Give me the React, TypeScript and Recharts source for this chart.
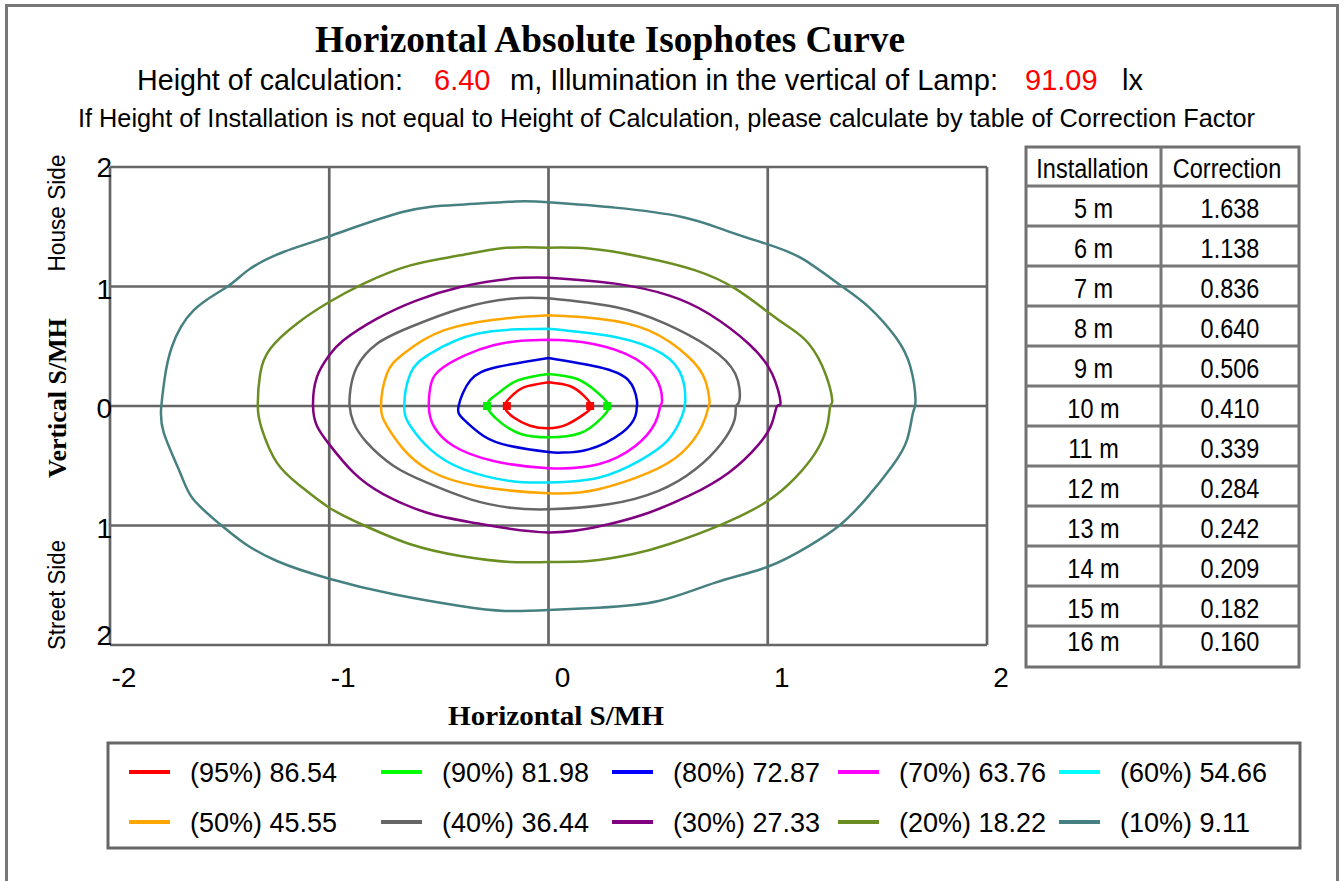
import React from 'react';
import { ScatterChart, Scatter, XAxis, YAxis, CartesianGrid } from 'recharts';

// contour points [x, y] in S/MH (top -> left -> bottom -> right -> top)
const red95 = [[0, 0.198], [-0.113, 0.156], [-0.166, 0.086], [-0.2, 0], [-0.16, -0.095], [-0.084, -0.165], [0, -0.187], [0.085, -0.153], [0.161, -0.07], [0.195, 0], [0.161, 0.086], [0.1, 0.165], [0, 0.198]];
const green90 = [[0, 0.268], [-0.143, 0.212], [-0.234, 0.1], [-0.28, 0], [-0.219, -0.137], [-0.126, -0.234], [0, -0.262], [0.146, -0.226], [0.237, -0.109], [0.275, 0], [0.222, 0.115], [0.131, 0.226], [0, 0.268]];
const blue80 = [[0, 0.402], [-0.234, 0.326], [-0.356, 0.215], [-0.41, 0], [-0.387, -0.112], [-0.296, -0.251], [-0.174, -0.335], [0, -0.385], [0.061, -0.39], [0.183, -0.363], [0.335, -0.223], [0.396, -0.084], [0.403, 0], [0.403, 0.048], [0.365, 0.215], [0.228, 0.326], [0, 0.402]];
const magenta70 = [[0, 0.555], [-0.251, 0.508], [-0.478, 0.326], [-0.539, 0.159], [-0.546, 0], [-0.524, -0.167], [-0.433, -0.335], [-0.251, -0.46], [0, -0.52], [0.228, -0.488], [0.396, -0.335], [0.487, -0.139], [0.51, 0], [0.518, 0.048], [0.487, 0.243], [0.35, 0.438], [0.152, 0.536], [0, 0.555]];
const cyan60 = [[0, 0.647], [-0.326, 0.605], [-0.539, 0.438], [-0.63, 0.27], [-0.658, 0], [-0.63, -0.167], [-0.539, -0.363], [-0.387, -0.53], [-0.174, -0.628], [0, -0.64], [0.228, -0.6], [0.426, -0.446], [0.548, -0.279], [0.609, -0.084], [0.621, 0], [0.624, 0.048], [0.609, 0.243], [0.518, 0.438], [0.304, 0.577], [0, 0.647]];
const orange50 = [[0, 0.759], [-0.205, 0.731], [-0.478, 0.633], [-0.661, 0.438], [-0.737, 0.27], [-0.764, 0], [-0.737, -0.167], [-0.661, -0.363], [-0.539, -0.544], [-0.326, -0.669], [0, -0.731], [0.228, -0.697], [0.457, -0.558], [0.609, -0.39], [0.7, -0.167], [0.731, 0], [0.734, 0.048], [0.715, 0.215], [0.639, 0.41], [0.457, 0.633], [0.228, 0.731], [0, 0.759]];
const gray40 = [[0, 0.902], [-0.174, 0.898], [-0.402, 0.814], [-0.63, 0.661], [-0.782, 0.521], [-0.874, 0.326], [-0.904, 0.131], [-0.907, 0], [-0.889, -0.139], [-0.828, -0.307], [-0.706, -0.502], [-0.554, -0.642], [-0.356, -0.781], [-0.174, -0.851], [0, -0.865], [0.274, -0.823], [0.502, -0.711], [0.67, -0.53], [0.791, -0.307], [0.849, -0.112], [0.855, 0], [0.871, 0.048], [0.852, 0.27], [0.731, 0.494], [0.533, 0.689], [0.304, 0.828], [0, 0.902]];
const purple30 = [[0, 1.074], [-0.174, 1.066], [-0.402, 0.996], [-0.6, 0.884], [-0.782, 0.731], [-0.935, 0.55], [-1, 0.424], [-1.056, 0.243], [-1.074, 0], [-1.056, -0.167], [-1, -0.321], [-0.889, -0.558], [-0.752, -0.739], [-0.554, -0.893], [-0.326, -0.982], [0, -1.058], [0.274, -0.99], [0.457, -0.893], [0.639, -0.753], [0.822, -0.558], [0.959, -0.321], [1.02, -0.14], [1.043, 0], [1.058, 0.033], [1.02, 0.27], [0.913, 0.521], [0.731, 0.772], [0.548, 0.926], [0.304, 1.024], [0, 1.074]];
const olive20 = [[0, 1.325], [-0.205, 1.322], [-0.402, 1.261], [-0.63, 1.177], [-0.843, 1.024], [-1, 0.87], [-1.148, 0.689], [-1.269, 0.48], [-1.315, 0.27], [-1.326, 0], [-1.307, -0.195], [-1.239, -0.474], [-1.132, -0.669], [-1, -0.851], [-0.843, -0.998], [-0.63, -1.157], [-0.402, -1.255], [-0.174, -1.305], [0, -1.305], [0.183, -1.297], [0.381, -1.241], [0.548, -1.157], [0.791, -0.99], [1, -0.795], [1.126, -0.6], [1.218, -0.39], [1.271, -0.167], [1.285, 0], [1.294, 0.048], [1.263, 0.27], [1.187, 0.521], [1.096, 0.661], [1, 0.787], [0.852, 0.982], [0.67, 1.135], [0.426, 1.247], [0.183, 1.317], [0, 1.325]];
const teal10 = [[0, 1.705], [-0.15, 1.712], [-0.402, 1.685], [-0.661, 1.625], [-1, 1.42], [-1.209, 1.289], [-1.361, 1.149], [-1.467, 0.996], [-1.619, 0.8], [-1.718, 0.494], [-1.752, 0.215], [-1.766, 0], [-1.755, -0.223], [-1.68, -0.558], [-1.62, -0.781], [-1.498, -0.99], [-1.391, -1.144], [-1.239, -1.297], [-1, -1.445], [-0.706, -1.576], [-0.402, -1.674], [-0.2, -1.715], [0, -1.708], [0.228, -1.688], [0.502, -1.632], [0.761, -1.478], [1, -1.345], [1.187, -1.172], [1.324, -1.004], [1.446, -0.781], [1.568, -0.502], [1.636, -0.279], [1.662, -0.06], [1.674, 0.048], [1.651, 0.326], [1.583, 0.577], [1.461, 0.828], [1.332, 1.01], [1.157, 1.233], [1, 1.353], [0.807, 1.47], [0.609, 1.582], [0.304, 1.66], [0, 1.705]];

// little square marks at the tips of the two inner curves
const red95Tips = [[-0.19, 0], [0.19, 0]];
const green90Tips = [[-0.28, 0], [0.268, 0]];

const levelNames = ['(95%) 86.54', '(90%) 81.98', '(80%) 72.87', '(70%) 63.76', '(60%) 54.66', '(50%) 45.55', '(40%) 36.44', '(30%) 27.33', '(20%) 18.22', '(10%) 9.11'];
const levelColors = ['#ff0000', '#00ee00', '#0000dd', '#ff00ff', '#00e5ff', '#ffa500', '#666666', '#800080', '#6b8e23', '#468080'];
const legendColors = ['#ff0000', '#00ff00', '#0000ff', '#ff00ff', '#00ffff', '#ffa500', '#666666', '#800080', '#6b8e23', '#468080'];
const levelData = [red95, green90, blue80, magenta70, cyan60, orange50, gray40, purple30, olive20, teal10];

const xTicks = [-2, -1, 0, 1, 2];
const yTicks = [-2, -1, 0, 1, 2];

const installHeights = [5, 6, 7, 8, 9, 10, 11, 12, 13, 14, 15, 16];
const correctionFactors = [1.638, 1.138, 0.836, 0.64, 0.506, 0.41, 0.339, 0.284, 0.242, 0.209, 0.182, 0.16];

const SANS = "'Liberation Sans', Arial, sans-serif";
const SERIF = "'Liberation Serif', 'Times New Roman', serif";

const toPts = (arr: number[][]) => arr.map(([x, y]) => ({ x, y }));

const XTick = (props: any) => {
  const { x, payload } = props;
  return (
    <text x={x + 14} y={687} textAnchor="middle" fontSize={28} fontFamily={SANS} fill="#000">
      {payload.value}
    </text>
  );
};

const YTick = (props: any) => {
  const { y, payload } = props;
  const v = payload.value as number;
  const dy = v === -2 ? -10 : v === 2 ? 0 : 2;
  return (
    <text x={112} y={y + dy} dy="0.36em" textAnchor="end" fontSize={28} fontFamily={SANS} fill="#000">
      {Math.abs(v)}
    </text>
  );
};

const NoDot = () => <g />;

const Table = () => {
  const left = 1026;
  const mid = 1161;
  const right = 1299;
  const top = 147;
  const head = 186;
  const rowH = 40;
  const bottom = 667;
  const cx1 = (left + mid) / 2;
  const cx2 = (mid + right) / 2;
  const cell = (cx: number, cy: number, s: string) => (
    <g transform={`translate(${cx},${cy}) scale(0.84,1)`}>
      <text x={0} y={0} dy="0.36em" textAnchor="middle" fontSize={28} fontFamily={SANS} fill="#000">
        {s}
      </text>
    </g>
  );
  return (
    <g>
      <rect x={left} y={top} width={right - left} height={bottom - top} fill="#fff" stroke="#707070" strokeWidth={3} />
      <line x1={mid} y1={top} x2={mid} y2={bottom} stroke="#777" strokeWidth={3} />
      <line x1={left} y1={head} x2={right} y2={head} stroke="#777" strokeWidth={3} />
      {installHeights.map((h, i) => {
        const y0 = head + rowH * i;
        const cy = i === installHeights.length - 1 ? y0 + 15 : y0 + 22;
        return (
          <g key={h}>
            {i > 0 && <line x1={left} y1={y0} x2={right} y2={y0} stroke="#777" strokeWidth={3} />}
            {cell(cx1, cy, `${h} m`)}
            {cell(cx2, cy, correctionFactors[i].toFixed(3))}
          </g>
        );
      })}
      {cell(cx1 - 1, 168, 'Installation')}
      {cell(cx2 - 3, 168, 'Correction')}
    </g>
  );
};

const LegendBox = () => {
  const textX = [190, 442, 673, 899, 1120];
  const rowY = [772, 822];
  return (
    <g>
      <rect x={108} y={743} width={1192} height={105} fill="#fff" stroke="#666" strokeWidth={3} />
      {levelNames.map((name, i) => {
        const tx = textX[i % 5];
        const ty = rowY[Math.floor(i / 5)];
        return (
          <g key={name}>
            <line x1={tx - 61} y1={ty} x2={tx - 20} y2={ty} stroke={legendColors[i]} strokeWidth={4} />
            <text x={tx} y={ty} dy="0.36em" fontSize={27} fontFamily={SANS} fill="#000">
              {name}
            </text>
          </g>
        );
      })}
    </g>
  );
};

export default function App() {
  return (
    <div style={{ position: 'absolute', left: 0, top: 0, width: 1344, height: 881, background: '#fff', overflow: 'hidden' }}>
      <svg width={1344} height={881} style={{ position: 'absolute', left: 0, top: 0 }}>
        <rect x={6.5} y={5.5} width={1331} height={900} fill="#fff" stroke="#777" strokeWidth={3} />
        <text x={610} y={52} textAnchor="middle" fontFamily={SERIF} fontWeight="bold" fontSize={37} textLength={590} lengthAdjust="spacingAndGlyphs" fill="#000">
          Horizontal Absolute Isophotes Curve
        </text>
        <g fontFamily={SANS} fontSize={29}>
          <text x={137} y={90} textLength={266} lengthAdjust="spacingAndGlyphs" fill="#000">Height of calculation:</text>
          <text x={434} y={90} fill="#ff0000">6.40</text>
          <text x={510} y={90} textLength={488} lengthAdjust="spacingAndGlyphs" fill="#000">m, Illumination in the vertical of Lamp:</text>
          <text x={1025} y={90} fill="#ff0000">91.09</text>
          <text x={1122} y={90} fill="#000">lx</text>
        </g>
        <text x={78} y={127} fontFamily={SANS} fontSize={25} textLength={1177} lengthAdjust="spacingAndGlyphs" fill="#000">
          If Height of Installation is not equal to Height of Calculation, please calculate by table of Correction Factor
        </text>
        <text transform="translate(65,213) rotate(-90)" textAnchor="middle" fontFamily={SANS} fontSize={23} textLength={117} lengthAdjust="spacingAndGlyphs" fill="#000">
          House Side
        </text>
        <text transform="translate(66,398) rotate(-90)" textAnchor="middle" fontFamily={SERIF} fontWeight="bold" fontSize={26} textLength={160} lengthAdjust="spacingAndGlyphs" fill="#000">
          Vertical S/MH
        </text>
        <text transform="translate(65,595) rotate(-90)" textAnchor="middle" fontFamily={SANS} fontSize={23} textLength={110} lengthAdjust="spacingAndGlyphs" fill="#000">
          Street Side
        </text>
        <text x={556} y={725} textAnchor="middle" fontFamily={SERIF} fontWeight="bold" fontSize={27} textLength={216} lengthAdjust="spacingAndGlyphs" fill="#000">
          Horizontal S/MH
        </text>
        <Table />
        <LegendBox />
      </svg>
      <div style={{ position: 'absolute', left: 0, top: 0 }}>
        <ScatterChart width={1020} height={700} margin={{ top: 167, right: 33, bottom: 15, left: 0 }}>
          <CartesianGrid stroke="#666666" strokeWidth={2.7} fill="none" />
          <XAxis type="number" dataKey="x" domain={[-2, 2]} ticks={xTicks} axisLine={false} tickLine={false} height={40} tick={XTick} allowDataOverflow interval={0} />
          <YAxis type="number" dataKey="y" domain={[-2, 2]} ticks={yTicks} axisLine={false} tickLine={false} width={110} tick={YTick} allowDataOverflow interval={0} />
          {levelData.map((d, i) => (
            <Scatter
              key={levelNames[i]}
              name={levelNames[i]}
              data={toPts(d)}
              fill={levelColors[i]}
              stroke={levelColors[i]}
              line={{ stroke: levelColors[i], strokeWidth: 2.5 }}
              lineJointType="natural"
              shape={NoDot}
              isAnimationActive={false}
            />
          ))}
          <Scatter data={toPts(green90Tips)} fill={levelColors[1]} shape="square" isAnimationActive={false} />
          <Scatter data={toPts(red95Tips)} fill={levelColors[0]} shape="square" isAnimationActive={false} />
        </ScatterChart>
      </div>
    </div>
  );
}
